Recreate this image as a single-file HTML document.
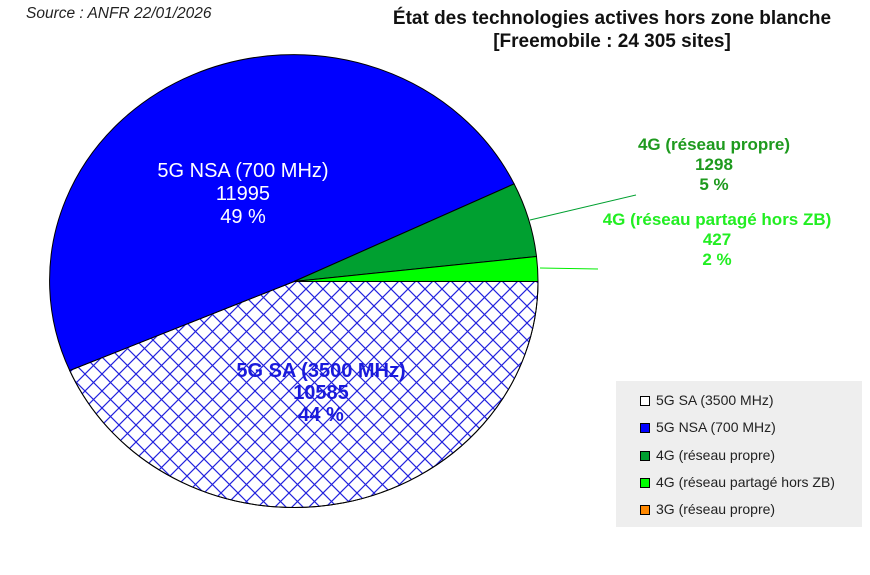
<!DOCTYPE html>
<html><head><meta charset="utf-8"><style>
body{margin:0;background:#fff;}
svg{display:block;font-family:"Liberation Sans",sans-serif;}
</style></head><body>
<svg width="870" height="575" viewBox="0 0 870 575">
<defs>
<pattern id="h" patternUnits="userSpaceOnUse" width="17" height="17">
<path d="M0,0L17,17M17,0L0,17M-1,16L1,18M16,-1L18,1" stroke="#2222dd" stroke-width="1.2"/>
</pattern>
</defs>
<text x="26" y="18" font-size="15.5" font-style="italic" fill="#222">Source : ANFR 22/01/2026</text>
<text x="612" y="24" font-size="19" font-weight="bold" text-anchor="middle" fill="#111">État des technologies actives hors zone blanche</text>
<text x="612" y="47" font-size="19" font-weight="bold" text-anchor="middle" fill="#111">[Freemobile : 24 305 sites]</text>
<g stroke="#000" stroke-width="1">
<path d="M294,281.5 L538,281.5 A244,226 0 0 1 69.7,370.5 Z" fill="#fff"/>
<path d="M294,281.5 L538,281.5 A244,226 0 0 1 69.7,370.5 Z" fill="url(#h)"/>
<path d="M294,281.5 L69.7,370.5 A244,226 0 0 1 514.1,183.9 Z" fill="#0000ff"/>
<path d="M294,281.5 L514.1,183.9 A244,226 0 0 1 536.5,256.5 Z" fill="#00a030"/>
<path d="M294,281.5 L536.5,256.5 A244,226 0 0 1 538,281.5 Z" fill="#00ff00"/>
</g>
<line x1="530" y1="220" x2="636" y2="195" stroke="#00a030"/>
<line x1="540" y1="268" x2="598" y2="269" stroke="#00ee00"/>
<g font-size="20" text-anchor="middle" fill="#fff">
<text x="243" y="177">5G NSA (700 MHz)</text>
<text x="243" y="200">11995</text>
<text x="243" y="223">49 %</text>
</g>
<g font-size="20" font-weight="bold" text-anchor="middle" fill="#1a1adc">
<text x="321" y="377">5G SA (3500 MHz)</text>
<text x="321" y="399">10585</text>
<text x="321" y="421">44 %</text>
</g>
<g font-size="17" font-weight="bold" text-anchor="middle" fill="#1e9a1e">
<text x="714" y="150">4G (réseau propre)</text>
<text x="714" y="170">1298</text>
<text x="714" y="190">5 %</text>
</g>
<g font-size="17" font-weight="bold" text-anchor="middle" fill="#22ee22">
<text x="717" y="225">4G (réseau partagé hors ZB)</text>
<text x="717" y="245">427</text>
<text x="717" y="265">2 %</text>
</g>
<rect x="616" y="381" width="246" height="146" fill="#eeeeee"/>
<g font-size="14" fill="#222" stroke="none">
<rect x="640.5" y="396.5" width="9" height="9" fill="#fff" stroke="#000"/><text x="656" y="405">5G SA (3500 MHz)</text>
<rect x="640.5" y="423.5" width="9" height="9" fill="#0000ff" stroke="#000"/><text x="656" y="432">5G NSA (700 MHz)</text>
<rect x="640.5" y="451.5" width="9" height="9" fill="#00a030" stroke="#000"/><text x="656" y="460">4G (réseau propre)</text>
<rect x="640.5" y="478.5" width="9" height="9" fill="#00ff00" stroke="#000"/><text x="656" y="487">4G (réseau partagé hors ZB)</text>
<rect x="640.5" y="505.5" width="9" height="9" fill="#ff8800" stroke="#000"/><text x="656" y="514">3G (réseau propre)</text>
</g>
</svg>
</body></html>
